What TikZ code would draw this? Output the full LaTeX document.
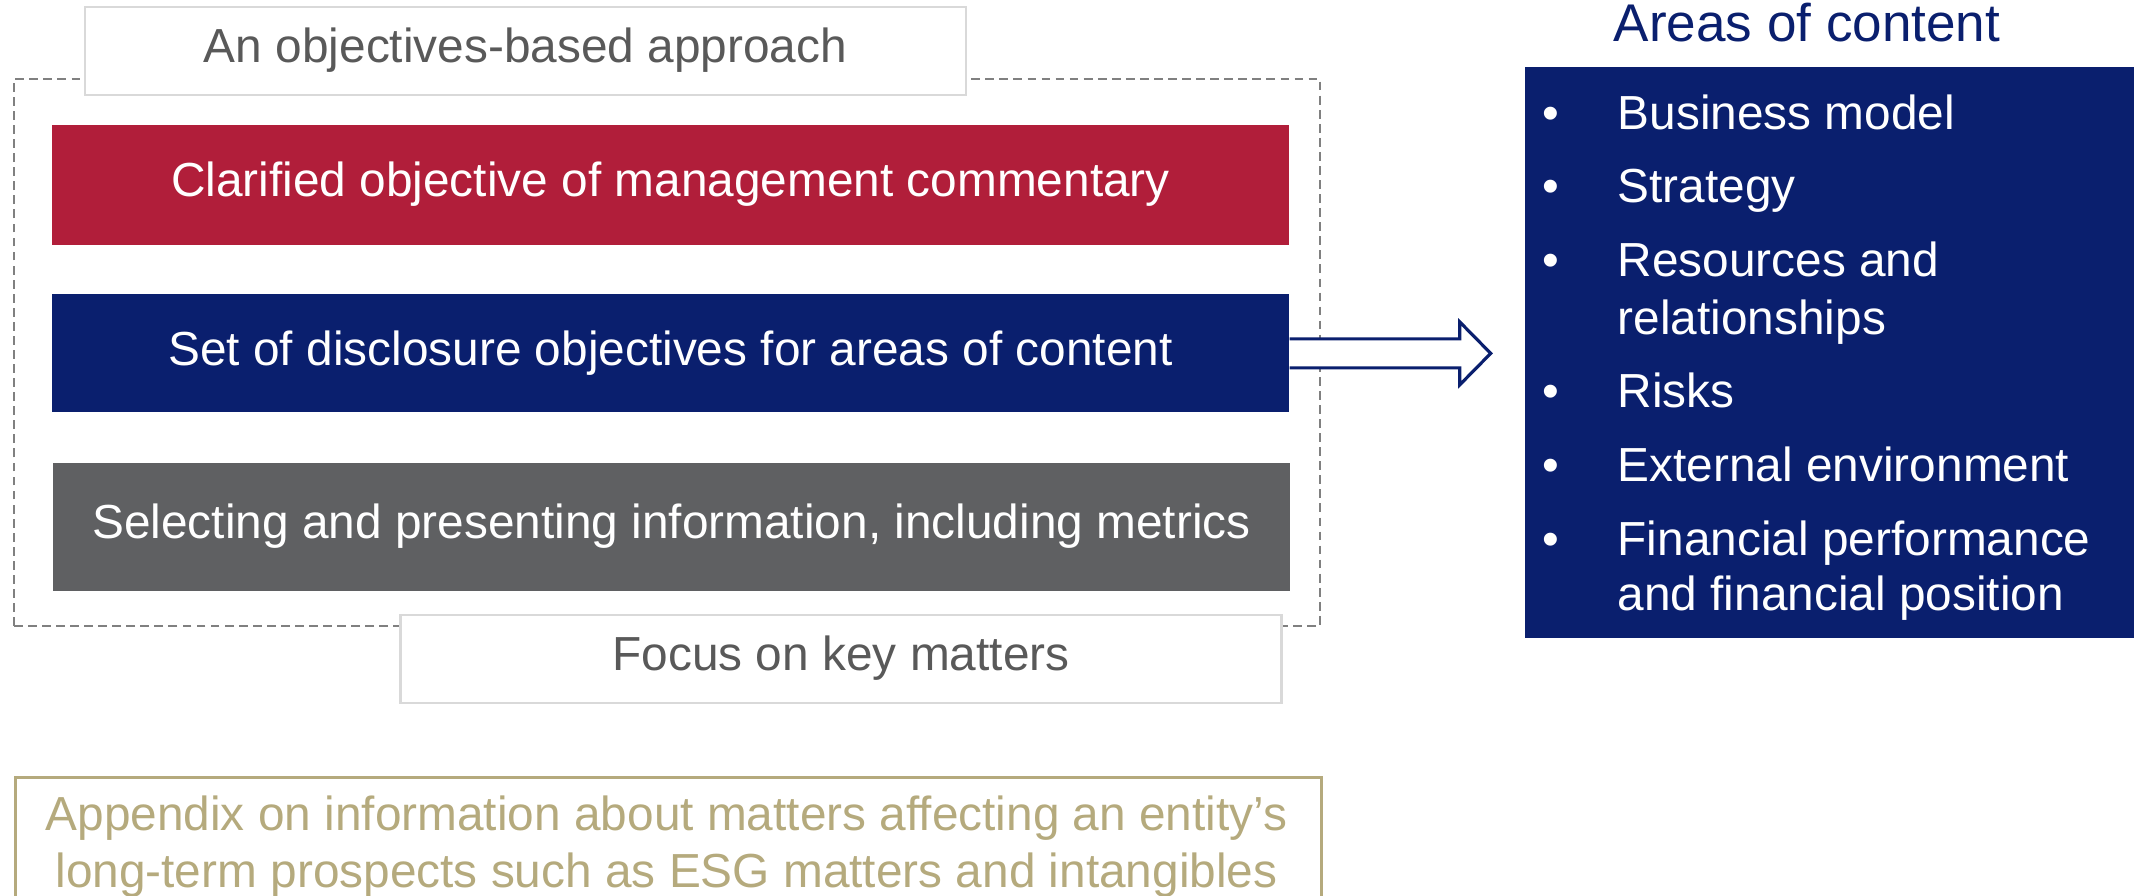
\documentclass[tikz,border=0pt]{standalone}
\usepackage{fontspec}
\setmainfont{Liberation Sans}
\usetikzlibrary{positioning,calc}
\definecolor{navy}{RGB}{10,31,110}
\definecolor{crimson}{RGB}{177,30,58}
\definecolor{slate}{RGB}{95,96,98}
\definecolor{txtgray}{RGB}{89,89,89}
\definecolor{sand}{RGB}{181,170,125}
\definecolor{lightline}{RGB}{217,217,217}
\newcommand{\mainsize}{\fontsize{13.6}{16.5}\selectfont}

\begin{document}
\begin{tikzpicture}[
    band/.style={minimum width=12.37cm, text=white, font=\mainsize, text height=0.73em, text depth=0.05em},
    tag/.style={draw=lightline, line width=0.8pt, fill=white, text=txtgray, minimum width=8.81cm, minimum height=0.88cm,
        font=\mainsize, text height=0.73em, text depth=0.05em},
    area/.style={text=white, anchor=base west, inner sep=0pt, font=\mainsize}]
    \useasboundingbox (0,0) rectangle (21.34,8.96);
    \clip (0,0) rectangle (21.34,8.96);
    % objectives-based approach
    \draw [gray, line width=0.6pt, dash pattern=on 2.5pt off 1.5pt] (0.14,2.70) rectangle (13.20,8.17);
    \node [tag] (approach) at (5.255,8.45) {An objectives-based approach};
    \node [band, fill=crimson, minimum height=1.20cm] (objective) at (6.705,7.11) {Clarified objective of management commentary};
    \node [band, fill=navy, minimum height=1.18cm, below=0.48cm of objective] (disclosure) {Set of disclosure objectives for areas of content};
    \node [band, fill=slate, minimum height=1.28cm, below=0.49cm of disclosure, xshift=0.01cm] (metrics) {Selecting and presenting information, including metrics};
    \node [tag] (focus) at (8.41,2.37) {Focus on key matters};
    % arrow to the areas
    \coordinate (tip) at ($(disclosure.east)+(2.01,0)$);
    \draw [navy, fill=white, line width=0.9pt] ([yshift=1.45mm]disclosure.east) -- ++(1.70,0) -- ++(0,0.17) -- (tip)
        -- ++(-0.31,-0.315) -- ++(0,0.17) -- ([yshift=-1.45mm]disclosure.east);
    % areas of content
    \node [text=navy, font=\fontsize{15.1}{18}\selectfont, anchor=base] (areas) at (18.07,8.54) {Areas of content};
    \node [fill=navy, anchor=north west, minimum width=6.3cm, minimum height=5.71cm] (panel) at (15.24,8.30) {};
    \foreach \y/\t [count=\i] in {7.66/Business model, 6.93/Strategy, 6.19/Resources and, 5.61/relationships,
        4.88/Risks, 4.14/External environment, 3.40/Financial performance, 2.85/and financial position}
        \node [area] (line\i) at (16.17,\y) {\t};
    \foreach \y [count=\i] in {7.66,6.93,6.19,4.88,4.14,3.40}
        \node [area, anchor=base] (dot\i) at (15.51,\y) {\textbullet};
    % appendix
    \node [draw=sand, line width=0.8pt, anchor=north west, minimum width=13.06cm, minimum height=1.6cm] (appendix) at (0.14,1.20) {};
    \node [text=sand, font=\mainsize, anchor=base] (appline1) at (6.665,0.65) {Appendix on information about matters affecting an entity’s};
    \node [text=sand, font=\mainsize, anchor=base] (appline2) at (6.665,0.08) {long-term prospects such as ESG matters and intangibles};
\end{tikzpicture}
\end{document}
